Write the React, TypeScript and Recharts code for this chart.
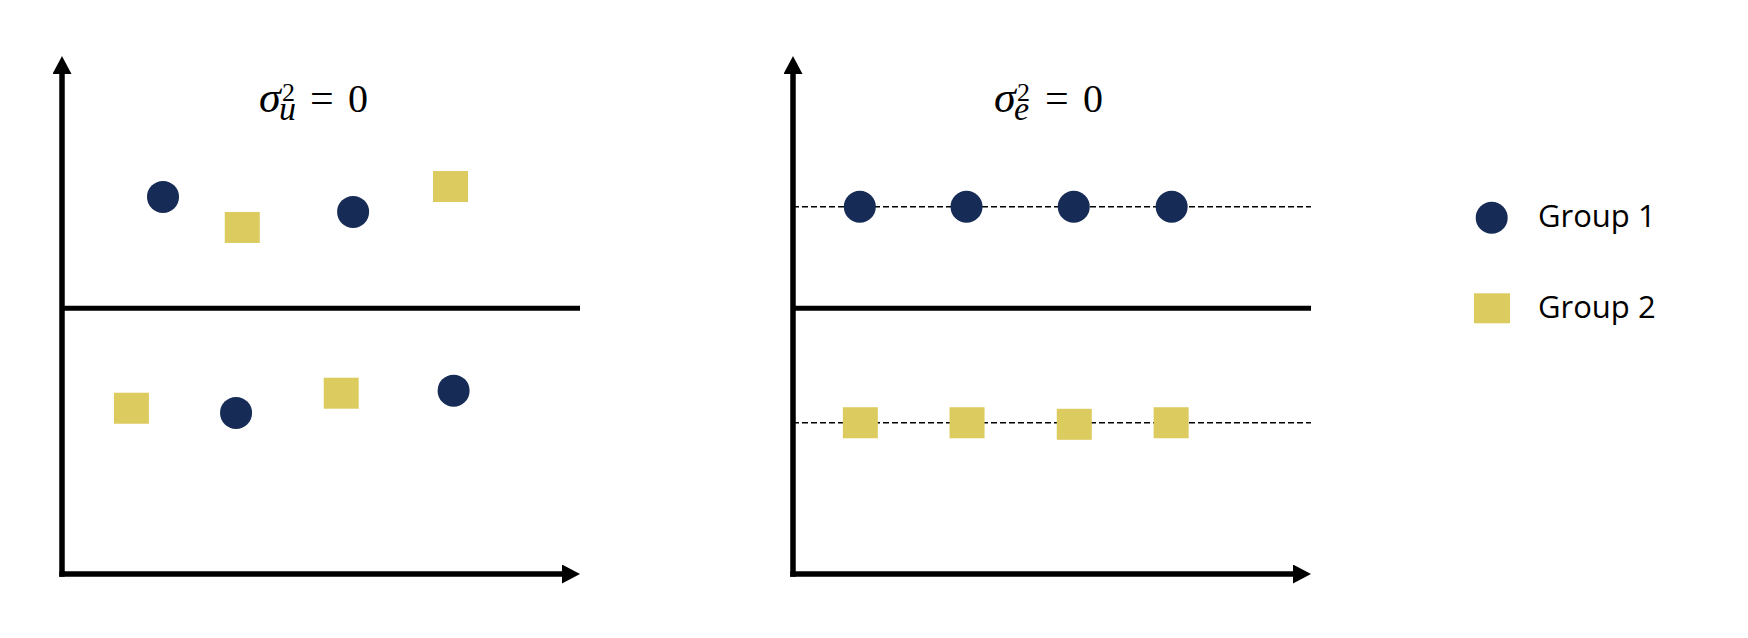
import { ReferenceLine, Scatter, ScatterChart, XAxis, YAxis } from "recharts";

const NAVY = "#162b55";
const GOLD = "#dccb5e";

// left panel: sigma_u^2 = 0, groups overlap around the grand mean
const leftGroup1 = [
  { x: 19.5, y: 21.5 },
  { x: 56.2, y: 18.6 },
  { x: 33.6, y: -20.2 },
  { x: 75.6, y: -15.9 },
];
const leftGroup2 = [
  { x: 34.8, y: 15.6 },
  { x: 75.0, y: 23.5 },
  { x: 13.4, y: -19.3 },
  { x: 53.9, y: -16.4 },
];

// right panel: sigma_e^2 = 0, every point sits on its group mean
const rightGroup1 = [
  { x: 12.9, y: 19.6 },
  { x: 33.5, y: 19.6 },
  { x: 54.2, y: 19.6 },
  { x: 73.1, y: 19.6 },
];
const rightGroup2 = [
  { x: 13.0, y: -22.1 },
  { x: 33.6, y: -22.1 },
  { x: 54.3, y: -22.4 },
  { x: 73.0, y: -22.1 },
];

const grandMean = 0;
const rightGroupMeans = [19.6, -22.1];

const xDomain: [number, number] = [0, 100];
const yDomain: [number, number] = [-51.3, 48.7];

const legendItems = [
  { name: "Group 1", color: NAVY, shape: "circle" },
  { name: "Group 2", color: GOLD, shape: "square" },
];

const W = 620;
const H = 638;
// axes get 1px of room each (a 0-sized axis is not drawn at all)
const M = { top: 56, right: 40, bottom: 63, left: 61 };
const plotW = W - M.left - 1 - M.right;
const AXIS = 5.5;

const Dot = (p: any) => <circle cx={p.cx} cy={p.cy} r={16} fill={NAVY} />;
const Block = (p: any) => (
  <rect x={p.cx - 17.5} y={p.cy - 15.5} width={35} height={31} fill={GOLD} />
);

function Panel({ group1, group2, means }: { group1: any[]; group2: any[]; means: number[] }) {
  return (
    <ScatterChart width={W} height={H} margin={M}>
      <XAxis
        type="number"
        dataKey="x"
        domain={xDomain}
        allowDataOverflow
        tick={false}
        tickLine={false}
        height={1}
        axisLine={{
          stroke: "#000",
          strokeWidth: AXIS,
          strokeLinecap: "square",
          strokeDasharray: `${plotW - 9} 2000`,
          markerEnd: "url(#axisArrow)",
        }}
      />
      <YAxis
        type="number"
        dataKey="y"
        domain={yDomain}
        allowDataOverflow
        tick={false}
        tickLine={false}
        width={1}
        axisLine={{
          stroke: "#000",
          strokeWidth: AXIS,
          strokeLinecap: "square",
          strokeDasharray: "2000 2000",
          strokeDashoffset: -9,
          markerStart: "url(#axisArrow)",
        }}
      />
      <Scatter data={group1} shape={Dot} isAnimationActive={false} />
      <Scatter data={group2} shape={Block} isAnimationActive={false} />
      <ReferenceLine y={grandMean} stroke="#000" strokeWidth={5} />
      {means.map((m) => (
        <ReferenceLine key={m} y={m} stroke="#000" strokeWidth={1.6} strokeDasharray="6 3" />
      ))}
    </ScatterChart>
  );
}

// sigma with stacked subscript / superscript, as one text element
function Title({ x, sub }: { x: number; sub: string }) {
  return (
    <text fontFamily="'Liberation Serif', 'Times New Roman', serif" fill="#000">
      <tspan x={x - 1} y={112} fontSize={44} fontStyle="italic">σ</tspan>
      <tspan x={x + 19} y={120} fontSize={34} fontStyle="italic">{sub}</tspan>
      <tspan x={x + 22} y={100.5} fontSize={26}>2</tspan>
      <tspan x={x + 50} y={112} fontSize={42}>=</tspan>
      <tspan x={x + 88} y={112} fontSize={40}>0</tspan>
    </text>
  );
}

export default function App() {
  return (
    <div
      style={{
        position: "absolute",
        left: 0,
        top: 0,
        width: 1748,
        height: 638,
        background: "#fff",
        overflow: "hidden",
      }}
    >
      <div style={{ position: "absolute", left: 0, top: 0 }}>
        <Panel group1={leftGroup1} group2={leftGroup2} means={[]} />
      </div>
      <div style={{ position: "absolute", left: 731, top: 0 }}>
        <Panel group1={rightGroup1} group2={rightGroup2} means={rightGroupMeans} />
      </div>
      <svg
        width={1748}
        height={638}
        style={{ position: "absolute", left: 0, top: 0, pointerEvents: "none" }}
      >
        <defs>
          <marker
            id="axisArrow"
            viewBox="0 0 18 19"
            markerWidth={18}
            markerHeight={19}
            refX={18}
            refY={9.5}
            orient="auto-start-reverse"
            markerUnits="userSpaceOnUse"
          >
            <path d="M0,0 L18,9.5 L0,19 Z" fill="#000" />
          </marker>
        </defs>
        <Title x={260} sub="u" />
        <Title x={995} sub="e" />
        {legendItems.map((item, i) => {
          const cy = 217.7 + i * 90.6;
          return (
            <g key={item.name}>
              {item.shape === "circle" ? (
                <circle cx={1491.7} cy={cy} r={16} fill={item.color} />
              ) : (
                <rect x={1474} y={cy - 15} width={36} height={30} fill={item.color} />
              )}
              <text
                x={1538}
                y={cy + 9.5}
                fontFamily="'Open Sans', sans-serif"
                fontSize={31}
                fill="#000"
              >
                {item.name}
              </text>
            </g>
          );
        })}
      </svg>
    </div>
  );
}
